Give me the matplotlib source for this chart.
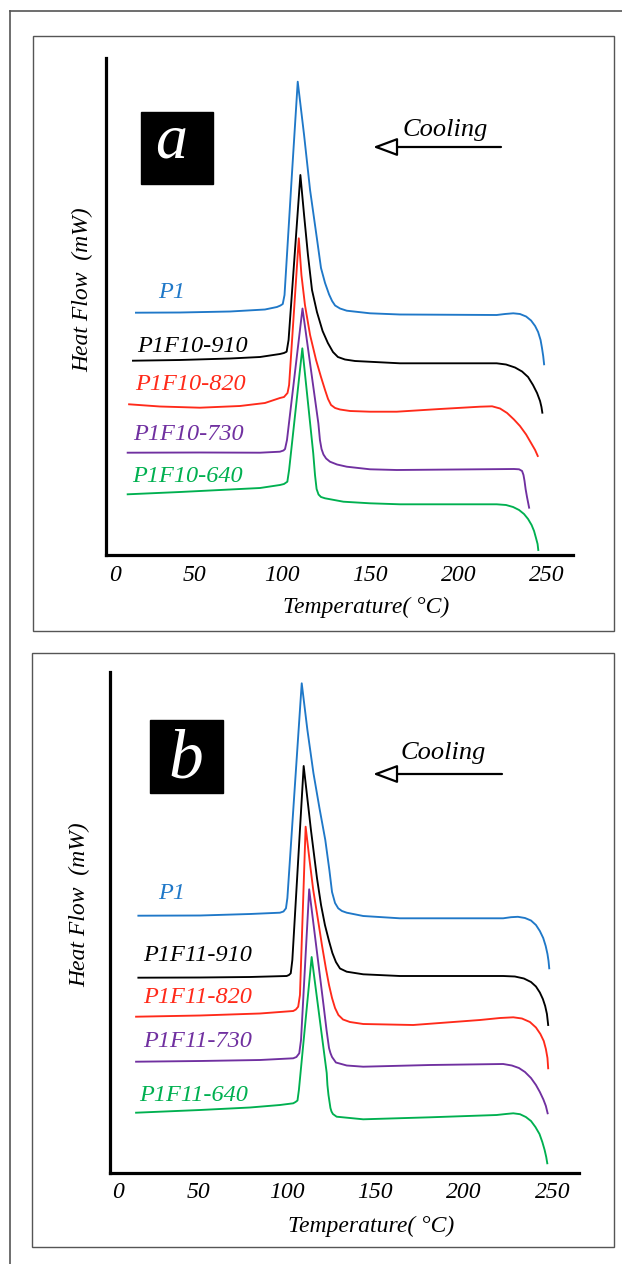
import matplotlib
matplotlib.use("Agg")
import matplotlib.pyplot as plt
from matplotlib.patches import Rectangle, FancyArrowPatch
from matplotlib.lines import Line2D
from matplotlib.transforms import ScaledTranslation

# ================= data =================
TICKS = [0, 50, 100, 150, 200, 250]
COLORS = ['#1f78c8', 'black', '#ff2a1a', '#7030a0', '#00b050']

# panel a : P1 and P1F10 series (temperature in C, heat flow in arbitrary units)
A_NAMES = ['P1', 'P1F10-910', 'P1F10-820', 'P1F10-730', 'P1F10-640']
A_P1_T = [17.0, 42.0, 70.4, 90.2, 97.0, 99.0, 100.3, 101.3, 105.3, 108.8, 112.4, 115.8, 119.8,
          122.0, 124.3, 126.6, 128.3, 130.0, 132.8, 136.6, 149.8, 166.8, 221.7, 226.4, 231.1,
          234.9, 238.4, 241.2, 243.5, 245.2, 246.6, 247.4, 248.1, 248.6]
A_P1_HF = [24.23, 24.25, 24.35, 24.55, 24.80, 24.95, 25.10, 26.00, 37.50, 47.33, 42.0, 36.5,
           31.5, 28.7, 27.2, 26.05, 25.40, 24.95, 24.65, 24.43, 24.17, 24.05, 24.00, 24.10,
           24.17, 24.10, 23.85, 23.45, 22.90, 22.30, 21.50, 20.70, 19.88, 19.07]
A_910_T = [15.3, 42.0, 70.4, 87.4, 98.7, 101.0, 102.5, 103.6, 110.3, 112.4, 114.6, 116.9, 119.7,
           122.9, 125.9, 128.8, 131.6, 135.6, 141.3, 166.8, 221.7, 227.0, 232.1, 236.1, 239.5,
           242.3, 244.6, 246.3, 247.1, 247.6]
A_910_HF = [19.43, 19.50, 19.65, 19.80, 20.10, 20.20, 20.33, 21.50, 38.00, 34.0, 30.0, 26.5,
            24.3, 22.4, 21.2, 20.3, 19.8, 19.55, 19.4, 19.17, 19.17, 19.05, 18.75, 18.35, 17.80,
            17.0, 16.2, 15.4, 14.8, 14.23]
A_820_T = [13.1, 30.6, 53.3, 76.0, 90.2, 98.7, 101.0, 103.0, 103.9, 109.4, 110.9, 112.9, 115.8,
           119.2, 122.0, 124.3, 126.0, 127.7, 130.0, 132.8, 138.5, 149.8, 165.0, 189.5, 212.2,
           219.1, 223.6, 227.6, 231.5, 234.9, 238.4, 241.2, 243.5, 245.0]
A_820_HF = [15.07, 14.85, 14.73, 14.90, 15.20, 15.70, 15.80, 16.20, 17.00, 31.67, 28.0, 25.0,
            22.0, 19.5, 17.8, 16.5, 15.6, 15.0, 14.7, 14.55, 14.4, 14.33, 14.33, 14.60, 14.83,
            14.87, 14.65, 14.2, 13.55, 12.9, 12.05, 11.2, 10.5, 9.9]
A_730_T = [12.3, 53.3, 87.4, 98.7, 100.7, 101.6, 102.7, 111.5, 120.5, 121.4, 122.3, 123.4, 124.9,
           127.1, 131.1, 136.6, 149.8, 165.0, 231.5, 234.4, 236.1, 236.9, 237.5, 238.1, 238.9,
           240.1]
A_730_HF = [10.23, 10.25, 10.23, 10.33, 10.45, 10.60, 11.50, 24.65, 13.17, 11.5, 10.6, 10.05,
            9.65, 9.33, 9.05, 8.83, 8.57, 8.50, 8.60, 8.57, 8.40, 8.0, 7.4, 6.6, 5.8, 4.73]
A_640_T = [12.3, 42.0, 70.4, 87.4, 98.7, 101.0, 102.9, 103.9, 111.4, 117.6, 118.6, 119.5, 120.6,
           122.0, 124.3, 134.7, 149.8, 166.8, 221.7, 227.0, 231.0, 234.4, 237.2, 239.5, 241.5,
           242.9, 244.0, 244.9, 245.3]
A_640_HF = [6.07, 6.30, 6.55, 6.70, 7.00, 7.10, 7.33, 8.50, 20.67, 10.17, 8.0, 6.6, 6.05, 5.8,
            5.67, 5.33, 5.17, 5.07, 5.07, 5.0, 4.8, 4.5, 4.1, 3.6, 3.0, 2.4, 1.7, 1.1, 0.5]

# panel b : P1 and P1F11 series
B_NAMES = ['P1', 'P1F11-910', 'P1F11-820', 'P1F11-730', 'P1F11-640']
B_P1_T = [16.3, 51.1, 79.3, 96.2, 98.2, 99.6, 100.4, 108.5, 111.7, 115.1, 118.5, 121.8, 124.1,
          125.6, 127.3, 129.1, 131.2, 133.9, 143.2, 163.9, 222.2, 226.6, 230.5, 234.5, 237.9,
          240.7, 242.9, 244.8, 246.2, 247.2, 247.8, 248.2]
B_P1_HF = [25.68, 25.70, 25.85, 25.98, 26.10, 26.42, 27.45, 48.92, 44.25, 39.95, 36.45, 33.25,
           30.25, 28.05, 26.95, 26.42, 26.15, 25.98, 25.65, 25.42, 25.42, 25.53, 25.57, 25.45,
           25.20, 24.75, 24.15, 23.45, 22.65, 21.85, 21.15, 20.42]
B_910_T = [16.3, 51.1, 79.3, 100.0, 101.3, 102.3, 103.2, 109.6, 113.7, 117.1, 119.4, 121.6, 123.9,
           125.8, 127.8, 130.1, 133.9, 143.2, 163.9, 222.2, 228.8, 233.9, 237.9, 240.7, 242.9,
           244.6, 245.9, 246.9, 247.6]
B_910_HF = [19.48, 19.50, 19.55, 19.65, 19.75, 19.92, 21.25, 40.65, 34.25, 29.45, 26.75, 24.75,
            23.15, 21.95, 21.05, 20.4, 20.08, 19.82, 19.65, 19.65, 19.6, 19.4, 19.05, 18.6, 18.0,
            17.35, 16.65, 15.85, 14.75]
B_820_T = [15.0, 51.1, 84.9, 103.7, 105.2, 106.5, 107.5, 110.7, 112.9, 115.0, 117.7, 119.9, 122.2,
           123.9, 125.6, 127.3, 129.2, 131.8, 135.7, 143.2, 171.4, 209.1, 220.4, 227.9, 232.8,
           237.3, 240.7, 243.2, 245.1, 246.3, 247.2, 247.6]
B_820_HF = [15.58, 15.70, 15.90, 16.15, 16.30, 16.58, 17.75, 34.58, 31.25, 28.25, 25.25, 22.75,
            20.35, 18.75, 17.45, 16.45, 15.75, 15.3, 15.05, 14.85, 14.75, 15.25, 15.45, 15.52,
            15.40, 15.05, 14.5, 13.85, 13.15, 12.35, 11.45, 10.42]
B_730_T = [15.0, 51.1, 84.9, 103.7, 105.5, 107.1, 108.1, 112.7, 120.8, 122.5, 123.9, 124.7, 125.6,
           127.8, 133.9, 143.2, 180.9, 222.2, 227.1, 231.1, 234.5, 237.9, 240.7, 242.9, 244.9,
           246.3, 247.3]
B_730_HF = [11.08, 11.15, 11.25, 11.42, 11.55, 11.92, 13.25, 28.32, 16.75, 14.25, 12.45, 11.95,
            11.55, 11.00, 10.70, 10.58, 10.75, 10.85, 10.7, 10.45, 10.05, 9.45, 8.75, 8.05, 7.3,
            6.65, 5.92]
B_640_T = [15.0, 51.1, 79.3, 96.2, 103.7, 105.0, 106.1, 106.9, 114.1, 122.6, 123.0, 123.6, 124.7,
           125.3, 126.1, 128.2, 143.2, 180.9, 218.5, 223.7, 227.9, 231.7, 235.0, 237.9, 240.4,
           242.7, 244.3, 245.6, 246.5, 247.1]
B_640_HF = [5.98, 6.25, 6.50, 6.75, 6.92, 7.05, 7.20, 8.25, 21.55, 9.95, 8.75, 7.75, 6.45, 6.1,
            5.85, 5.58, 5.32, 5.52, 5.75, 5.85, 5.92, 5.83, 5.55, 5.15, 4.55, 3.85, 3.05, 2.25,
            1.55, 0.92]

A_CURVES = [(A_P1_T, A_P1_HF), (A_910_T, A_910_HF), (A_820_T, A_820_HF),
            (A_730_T, A_730_HF), (A_640_T, A_640_HF)]
B_CURVES = [(B_P1_T, B_P1_HF), (B_910_T, B_910_HF), (B_820_T, B_820_HF),
            (B_730_T, B_730_HF), (B_640_T, B_640_HF)]

# ================= layout (pixels of the 622x1264 image) =================
W, H = 622, 1264
plt.rcParams['font.family'] = ['Liberation Serif', 'DejaVu Serif']
plt.rcParams['font.style'] = 'italic'


def fpos(x, y):
    return x / W, 1 - y / H


PANELS = [
    dict(box=(33, 36, 614, 631), ax=(106, 58, 573, 555), ylim=(0, 49.7), letter='a', lsize=46,
         lbox=(141, 112, 213, 184), lxy=(171, 158), cool=(445, 130), arrow=(501, 373, 147),
         ylab=(83, 290), xlab=(366, 607), curves=A_CURVES, names=A_NAMES,
         lpos=[(29.5, 26.3), (17.6, 20.8), (16.5, 17.0), (15.3, 12.1), (14.8, 7.8)]),
    dict(box=(32, 653, 614, 1247), ax=(109.5, 672, 579, 1172.5), ylim=(0, 50.05), letter='b',
         lsize=50, lbox=(150, 720, 223, 793), lxy=(186, 778), cool=(443, 753),
         arrow=(502, 373, 774), ylab=(80, 905), xlab=(371, 1226), curves=B_CURVES,
         names=B_NAMES,
         lpos=[(27.4, 27.9), (18.9, 21.7), (18.9, 17.5), (18.9, 13.1), (16.6, 7.7)]),
]

fig = plt.figure(figsize=(W / 100, H / 100), dpi=100)

# outer frame (left and top edges)
fig.add_artist(Line2D([10 / W, 10 / W], [1 - 11 / H, 0], color='#555555', lw=1.2))
fig.add_artist(Line2D([10 / W, 1], [1 - 11 / H, 1 - 11 / H], color='#555555', lw=1.2))

for p in PANELS:
    x0, y0, x1, y1 = p['box']
    fig.add_artist(Rectangle(fpos(x0, y1), (x1 - x0) / W, (y1 - y0) / H,
                             transform=fig.transFigure, fill=False, ec='#555555', lw=1.0))

    ax0, ay0, ax1, ay1 = p['ax']
    ax = fig.add_axes([ax0 / W, 1 - ay1 / H, (ax1 - ax0) / W, (ay1 - ay0) / H])
    ax.patch.set_visible(False)
    for (t, hf), c in zip(p['curves'], COLORS):
        ax.plot(t, hf, color=c, lw=1.35, solid_joinstyle='round')
    for name, (tx, ty), c in zip(p['names'], p['lpos'], COLORS):
        ax.text(tx, ty, name, color=c, fontsize=17.5, ha='left', va='center')

    ax.set_xlim(0, 265)
    ax.set_ylim(*p['ylim'])
    ax.set_xticks(TICKS)
    ax.set_xticklabels([str(v) for v in TICKS])
    ax.set_yticks([])
    ax.tick_params(axis='x', length=0, pad=7, labelsize=17)
    for s in ['top', 'right']:
        ax.spines[s].set_visible(False)
    for s in ['left', 'bottom']:
        ax.spines[s].set_linewidth(2.3)
        ax.spines[s].set_capstyle('projecting')
    zero = ax.get_xticklabels()[0]
    zero.set_transform(zero.get_transform() + ScaledTranslation(0.09, 0, fig.dpi_scale_trans))

    # axis titles
    fig.text(*fpos(*p['ylab']), 'Heat Flow  (mW)', rotation=90, ha='center', va='center',
             fontsize=17)
    fig.text(*fpos(*p['xlab']), 'Temperature( °C)', ha='center', va='center', fontsize=17)

    # panel letter
    lx0, ly0, lx1, ly1 = p['lbox']
    fig.add_artist(Rectangle(fpos(lx0, ly1), (lx1 - lx0) / W, (ly1 - ly0) / H,
                             transform=fig.transFigure, fc='black', ec='black'))
    fig.text(*fpos(*p['lxy']), p['letter'], color='white', fontsize=p['lsize'], ha='center',
             va='baseline')

    # cooling arrow
    fig.text(*fpos(*p['cool']), 'Cooling', ha='center', va='center', fontsize=19)
    xa, xb, yy = p['arrow']
    fig.add_artist(FancyArrowPatch(fpos(xa, yy), fpos(xb, yy), transform=fig.transFigure,
                                   arrowstyle='-|>,head_length=0.75,head_width=0.28',
                                   mutation_scale=20, fc='white', ec='black', lw=1.6,
                                   shrinkA=0, shrinkB=0))

fig.savefig('out.png', dpi=100)
